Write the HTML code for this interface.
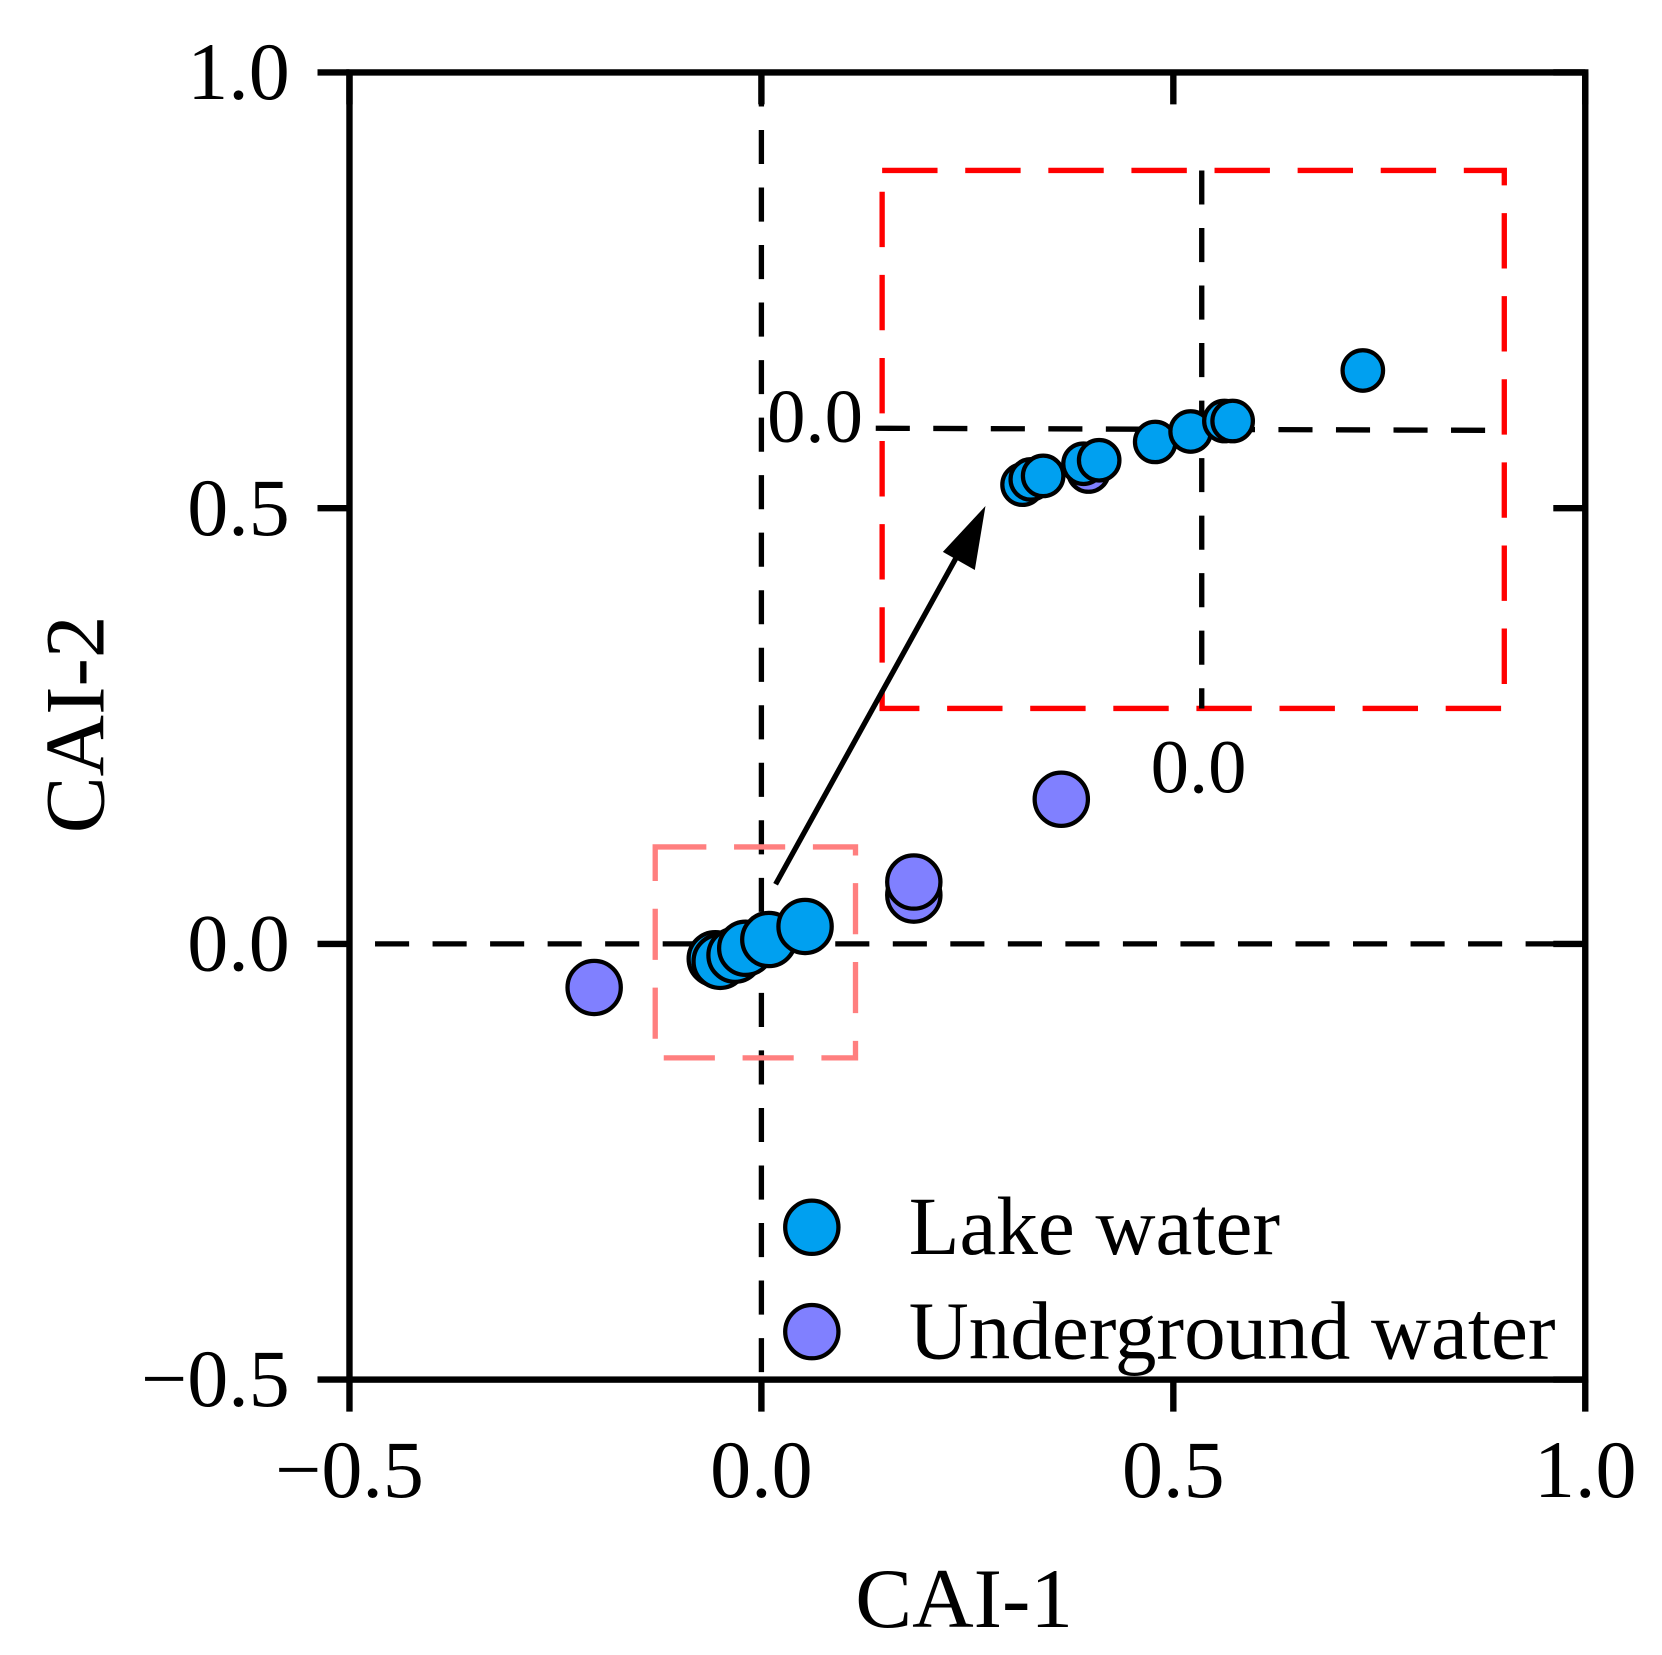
<!DOCTYPE html>
<html><head><meta charset="utf-8"><style>html,body{margin:0;padding:0;background:#fff}svg{display:block}text{font-family:"Liberation Serif",serif;fill:#000}</style></head>
<body>
<svg id="chart" width="1662" height="1655" viewBox="0 0 1560 1553.5" xmlns="http://www.w3.org/2000/svg">
<g id="g"></g>
</svg>
<script>
const xTicks=[-0.5,0,0.5,1.0];
const yTicks=[-0.5,0,0.5,1.0];
const tickLabels=["\u22120.5","0.0","0.5","1.0"];
const lakeX=[-0.056,-0.050,-0.032,-0.019,0.009,0.053];
const lakeY=[-0.017,-0.020,-0.013,-0.005,0.005,0.020];
const insetLakeX=[0.317,0.327,0.342,0.391,0.410,0.478,0.521,0.562,0.572,0.730];
const insetLakeY=[0.527,0.533,0.537,0.551,0.555,0.576,0.588,0.600,0.600,0.658];
const underX=[-0.203,0.185,0.185,0.364];
const underY=[-0.050,0.056,0.071,0.166];
const insetUnderX=[0.397];
const insetUnderY=[0.542];
const L=328,R=1488,T=68,B=1295;
const sx=v=>L+(v+0.5)/1.5*(R-L);
const sy=v=>B-(v+0.5)/1.5*(B-T);
const ns="http://www.w3.org/2000/svg";
const g=document.getElementById('g');
function mk(tag,attrs,name,txt){const e=document.createElementNS(ns,tag);for(const k in attrs)e.setAttribute(k,attrs[k]);


if(txt!==undefined)e.textContent=txt;g.appendChild(e);return e;}
const dash={stroke:'#000','stroke-width':5,'stroke-dasharray':'32 22',fill:'none'};
mk('line',Object.assign({x1:298,y1:sy(0),x2:R,y2:sy(0)},dash),'zero-line-horizontal');
mk('line',Object.assign({x1:sx(0),y1:T,x2:sx(0),y2:B},dash),'zero-line-vertical');
mk('rect',{x:828,y:160,width:584,height:505,fill:'none',stroke:'#f00','stroke-width':5,'stroke-dasharray':'52 26'},'inset-box');
mk('line',Object.assign({x1:1128,y1:160,x2:1128,y2:665},dash),'inset-zero-vertical');
mk('line',Object.assign({x1:822,y1:402,x2:1412,y2:404},dash),'inset-zero-horizontal');
mk('text',{x:720,y:415,'font-size':72},'inset-y-label','0.0');
mk('text',{x:1080,y:744,'font-size':72},'inset-x-label','0.0');
mk('rect',{x:615,y:795,width:188,height:198,fill:'none',stroke:'#ff7f7f','stroke-width':5,'stroke-dasharray':'48 26'},'zoom-region-box');
mk('line',{x1:728,y1:830,x2:905,y2:510,stroke:'#000','stroke-width':5},'arrow-line');
mk('polygon',{points:'925,475 915,535 885,518',fill:'#000'},'arrow-head');
mk('rect',{x:L,y:T,width:R-L,height:B-T,fill:'none',stroke:'#000','stroke-width':6},'plot-frame');
xTicks.forEach((v,i)=>{
 mk('line',{x1:sx(v),y1:B,x2:sx(v),y2:B+30,stroke:'#000','stroke-width':6},'x-tick');
 mk('line',{x1:sx(v),y1:T,x2:sx(v),y2:T+30,stroke:'#000','stroke-width':6},'x-tick-top');
 mk('text',{x:sx(v),y:1405,'font-size':77,'text-anchor':'middle'},'x-tick-label',tickLabels[i]);
});
yTicks.forEach((v,i)=>{
 mk('line',{x1:L-30,y1:sy(v),x2:L,y2:sy(v),stroke:'#000','stroke-width':6},'y-tick');
 mk('line',{x1:R-30,y1:sy(v),x2:R,y2:sy(v),stroke:'#000','stroke-width':6},'y-tick-right');
 mk('text',{x:272,y:sy(v)+25,'font-size':77,'text-anchor':'end'},'y-tick-label',tickLabels[i]);
});
mk('text',{x:905,y:1527,'font-size':80,'text-anchor':'middle'},'x-axis-title','CAI-1');
mk('text',{x:0,y:0,'font-size':80,'text-anchor':'middle',transform:'translate(97,680) rotate(-90)'},'y-axis-title','CAI-2');
const LC='#00a0f0',UC='#8080ff';
function pts(xs,ys,r,c,name){xs.forEach((x,i)=>mk('circle',{cx:sx(x),cy:sy(ys[i]),r:r,fill:c,stroke:'#000','stroke-width':4},name));}
pts(underX,underY,25,UC,'underground-point');
pts(insetUnderX,insetUnderY,19,UC,'underground-inset-point');
pts(lakeX,lakeY,25,LC,'lake-point');
pts(insetLakeX,insetLakeY,19,LC,'lake-inset-point');
mk('circle',{cx:762,cy:1152,r:25,fill:LC,stroke:'#000','stroke-width':4},'legend-lake-marker');
mk('text',{x:853,y:1177,'font-size':78},'legend-lake-label','Lake water');
mk('circle',{cx:762,cy:1250,r:25,fill:UC,stroke:'#000','stroke-width':4},'legend-underground-marker');
mk('text',{x:853,y:1275,'font-size':78},'legend-underground-label','Underground water');
</script>
</body></html>
